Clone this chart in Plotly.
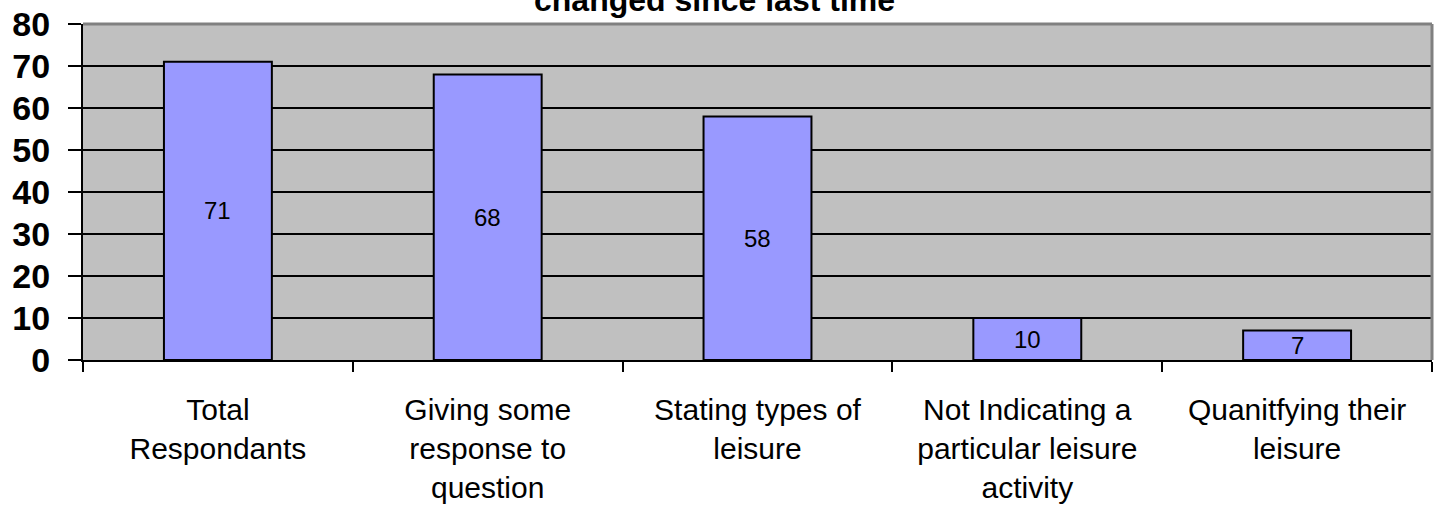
import plotly.graph_objects as go

categories = [
    "Total<br>Respondants",
    "Giving some<br>response to<br>question",
    "Stating types of<br>leisure",
    "Not Indicating a<br>particular leisure<br>activity",
    "Quanitfying their<br>leisure",
]
values = [71, 68, 58, 10, 7]
y_ticks = [0, 10, 20, 30, 40, 50, 60, 70, 80]
title_text = "changed since last time"

fig = go.Figure()
fig.add_trace(go.Bar(
    x=categories, y=values, width=0.4,
    marker=dict(color="#9999FF", line=dict(color="black", width=2)),
    hoverinfo="skip",
))
for c, v in zip(categories, values):
    fig.add_annotation(x=c, y=v / 2, text=str(v), showarrow=False,
                       font=dict(family="Liberation Sans, Arial", size=24, color="black"))

fig.update_layout(
    width=1439, height=505,
    margin=dict(l=83, r=7, t=24, b=145, autoexpand=False),
    paper_bgcolor="white", plot_bgcolor="#C0C0C0",
    showlegend=False,
    font=dict(family="Liberation Sans, Arial", color="black"),
)
fig.update_xaxes(
    type="category", tickson="boundaries", ticks="outside", ticklen=10, tickwidth=2,
    tickcolor="black", showline=True, linecolor="black", linewidth=2,
    showgrid=False, tickfont=dict(size=30, color="black"), range=[-0.5, 4.5],
    automargin=False, ticklabelstandoff=22, ticklabeloverflow="allow",
)
fig.update_yaxes(
    range=[0, 80], tickvals=y_ticks, ticks="outside", ticklen=13, tickwidth=2,
    tickcolor="black", showline=True, linecolor="black", linewidth=2,
    showgrid=True, gridcolor="black", gridwidth=2, zeroline=False,
    tickfont=dict(size=34, color="black", family="Liberation Sans, Arial", weight="bold"),
    ticklabelstandoff=11, automargin=False, ticklabeloverflow="allow",
)
fig.add_shape(type="line", xref="paper", yref="paper", x0=0, x1=1, y0=1, y1=1,
              line=dict(color="#808080", width=3), layer="above")
fig.add_shape(type="line", xref="paper", yref="paper", x0=1, x1=1, y0=0, y1=1,
              line=dict(color="#808080", width=3), layer="above")
fig.add_annotation(text="<b>" + title_text + "</b>", xref="paper", yref="paper",
                   x=0.468, y=1, yanchor="bottom", yshift=4,
                   showarrow=False, font=dict(size=32, color="black"))

fig.write_html(
    "out.html",
    config={"displayModeBar": False},
    post_script="document.body.style.margin='0';document.body.style.overflow='hidden';",
)
